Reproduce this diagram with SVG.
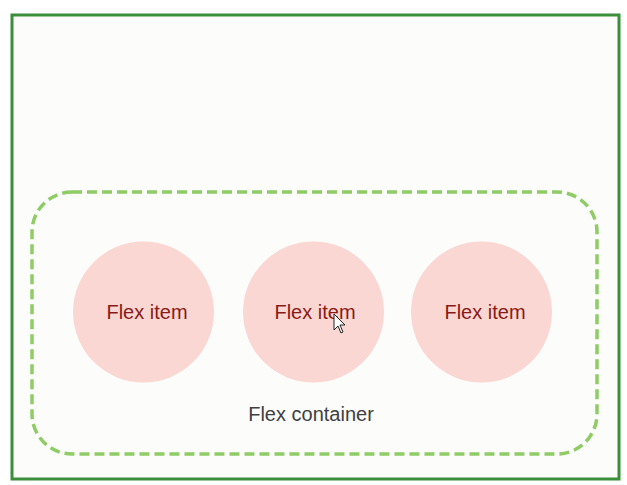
<svg xmlns="http://www.w3.org/2000/svg" width="627" height="485" viewBox="0 0 627 485">
<style>
.item circle{fill:#fad7d3;}
.item text{font-family:"Liberation Sans",Arial,sans-serif;font-size:20px;fill:#8b1a16;text-anchor:middle;}
.label{font-family:"Liberation Sans",Arial,sans-serif;font-size:20px;fill:#404040;text-anchor:middle;}
</style>
<rect width="627" height="485" fill="#ffffff"/>
<g id="outer">
<rect x="12" y="15" width="607" height="464" fill="#fcfdfb" stroke="#3b8f3b" stroke-width="3"/>
</g>
<g id="container">
<rect x="32" y="192" width="565" height="262" rx="40" ry="40" fill="none" stroke="#8fcc66" stroke-width="3.5" stroke-dasharray="10 5"/>
<text class="label" x="311" y="421">Flex container</text>
</g>
<g id="item1" class="item">
<circle cx="143.5" cy="312" r="70.5"/>
<text x="147" y="319">Flex item</text>
</g>
<g id="item2" class="item">
<circle cx="313.5" cy="312" r="70.5"/>
<text x="315" y="319">Flex item</text>
</g>
<g id="item3" class="item">
<circle cx="481.5" cy="312" r="70.5"/>
<text x="485" y="319">Flex item</text>
</g>
<g id="cursor">
<path d="M334,314 L334,330 L338,326 L341,333 L343,332 L340,325 L345,325 Z" fill="#ffffff" stroke="#222222" stroke-width="1"/>
</g>
</svg>
